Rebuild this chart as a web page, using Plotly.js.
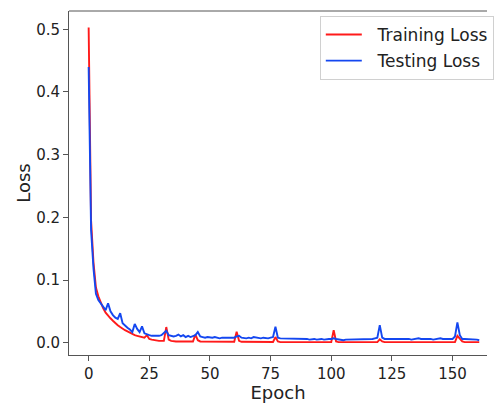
<!DOCTYPE html>
<html>
<head>
<meta charset="utf-8">
<script src="https://cdn.plot.ly/plotly-3.0.1.min.js"></script>
<style>
  html, body { margin: 0; padding: 0; background: #fff; overflow: hidden; }
  #chart { width: 494px; height: 403px; }
</style>
</head>
<body>
<div id="chart"></div>
<script>
// Per-epoch loss history (epochs 0..161)
const trainingLoss = [
  0.503, 0.195, 0.128, 0.088, 0.074, 0.063, 0.055, 0.048, 0.043, 0.039,
  0.035, 0.031, 0.028, 0.025, 0.022, 0.020, 0.018, 0.016, 0.013, 0.012,
  0.011, 0.010, 0.009, 0.008, 0.012, 0.006, 0.005, 0.004, 0.004, 0.003,
  0.003, 0.003, 0.025, 0.005, 0.003, 0.002, 0.002, 0.002, 0.002, 0.002,
  0.002, 0.002, 0.002, 0.002, 0.013, 0.004, 0.002, 0.002, 0.002, 0.002,
  0.002, 0.002, 0.0015, 0.0015, 0.0015, 0.0015, 0.0015, 0.0015, 0.0015, 0.0015,
  0.0015, 0.0175, 0.003, 0.0015, 0.0015, 0.0012, 0.0012, 0.0012, 0.0012, 0.0012,
  0.0012, 0.0012, 0.0012, 0.0012, 0.0012, 0.0012, 0.0012, 0.009, 0.002, 0.001,
  0.001, 0.001, 0.001, 0.001, 0.001, 0.001, 0.001, 0.001, 0.001, 0.001,
  0.001, 0.001, 0.001, 0.001, 0.001, 0.001, 0.001, 0.001, 0.001, 0.001,
  0.001, 0.020, 0.002, 0.001, 0.001, 0.001, 0.001, 0.001, 0.001, 0.001,
  0.001, 0.001, 0.001, 0.001, 0.001, 0.001, 0.001, 0.001, 0.001, 0.001,
  0.0055, 0.002, 0.001, 0.001, 0.001, 0.001, 0.001, 0.001, 0.001, 0.001,
  0.001, 0.001, 0.001, 0.001, 0.001, 0.001, 0.001, 0.001, 0.001, 0.001,
  0.001, 0.001, 0.001, 0.001, 0.001, 0.001, 0.001, 0.001, 0.001, 0.001,
  0.001, 0.001, 0.011, 0.006, 0.002, 0.001, 0.001, 0.001, 0.001, 0.001,
  0.001, 0.001
];

const testingLoss = [
  0.440, 0.180, 0.118, 0.078, 0.068, 0.062, 0.057, 0.052, 0.063, 0.050,
  0.044, 0.040, 0.038, 0.047, 0.031, 0.027, 0.024, 0.021, 0.017, 0.030,
  0.022, 0.017, 0.026, 0.015, 0.013, 0.012, 0.011, 0.011, 0.010, 0.011,
  0.012, 0.016, 0.019, 0.012, 0.011, 0.010, 0.011, 0.013, 0.010, 0.012,
  0.009, 0.011, 0.009, 0.010, 0.012, 0.017, 0.010, 0.009, 0.008, 0.009,
  0.008, 0.008, 0.009, 0.008, 0.007, 0.008, 0.008, 0.009, 0.008, 0.008,
  0.008, 0.010, 0.011, 0.008, 0.007, 0.007, 0.008, 0.007, 0.009, 0.008,
  0.007, 0.007, 0.008, 0.007, 0.007, 0.008, 0.009, 0.0255, 0.008, 0.007,
  0.007, 0.006, 0.007, 0.006, 0.006, 0.007, 0.006, 0.006, 0.007, 0.006,
  0.006, 0.005, 0.006, 0.006, 0.005, 0.006, 0.006, 0.005, 0.006, 0.006,
  0.006, 0.007, 0.006, 0.005, 0.005, 0.004, 0.005, 0.005, 0.006, 0.005,
  0.005, 0.006, 0.005, 0.005, 0.006, 0.005, 0.006, 0.006, 0.007, 0.008,
  0.028, 0.008, 0.006, 0.006, 0.007, 0.006, 0.006, 0.007, 0.006, 0.006,
  0.007, 0.006, 0.006, 0.005, 0.006, 0.006, 0.007, 0.006, 0.006, 0.007,
  0.006, 0.006, 0.005, 0.006, 0.006, 0.007, 0.006, 0.006, 0.005, 0.006,
  0.006, 0.010, 0.0325, 0.012, 0.006, 0.006, 0.006, 0.005, 0.006, 0.005,
  0.005, 0.004
];

const epochs = trainingLoss.map((_, i) => i);
const yTicks = [0.0, 0.1, 0.2, 0.3, 0.4, 0.5];
const xTicks = [0, 25, 50, 75, 100, 125, 150];
const seriesNames = ['Training Loss', 'Testing Loss'];

const font = 'DejaVu Sans, sans-serif';
// small gap between the legend swatch and its label
const labelPad = '\u00a0\u00a0';

const traces = [
  {
    x: epochs, y: trainingLoss, name: labelPad + seriesNames[0], type: 'scatter', mode: 'lines',
    line: { color: '#ff1a1a', width: 1.9 }, legendgroup: 'a'
  },
  {
    x: epochs, y: testingLoss, name: labelPad + seriesNames[1], type: 'scatter', mode: 'lines',
    line: { color: '#1447f0', width: 1.9 }, legendgroup: 'b'
  }
];

const layout = {
  width: 494, height: 403,
  margin: { l: 69, r: 0, t: 11, b: 48, pad: 0 },
  paper_bgcolor: '#fff', plot_bgcolor: '#fff',
  font: { family: font, color: '#222', size: 15 },
  showlegend: true,
  legend: {
    x: 0.6, y: 0.9855, xanchor: 'left', yanchor: 'top',
    bgcolor: '#fff', bordercolor: '#d0d0d0', borderwidth: 1,
    font: { family: font, size: 17, color: '#222' },
    traceorder: 'grouped', tracegroupgap: 1, itemwidth: 36
  },
  xaxis: {
    range: [-8.1, 164.2], tickvals: xTicks, ticktext: xTicks.map(String),
    showgrid: false, zeroline: false, showline: true, linecolor: '#555', linewidth: 1,
    ticks: 'outside', ticklen: 5, tickcolor: '#555', tickwidth: 1,
    tickfont: { family: font, size: 15, color: '#222' },
    title: { text: 'Epoch', font: { family: font, size: 18, color: '#222' }, standoff: 4 },
    automargin: false
  },
  yaxis: {
    range: [-0.0196, 0.5292], tickvals: yTicks, ticktext: yTicks.map(v => v.toFixed(1)),
    showgrid: false, zeroline: false, showline: true, linecolor: '#555', linewidth: 1,
    ticks: 'outside', ticklen: 5, tickcolor: '#555', tickwidth: 1,
    tickfont: { family: font, size: 15, color: '#222' },
    title: { text: 'Loss', font: { family: font, size: 18, color: '#222' }, standoff: 0 },
    automargin: false
  },
  shapes: [
    // top frame edge
    { type: 'line', xref: 'paper', yref: 'paper', x0: 0, x1: 1, y0: 1, y1: 1,
      line: { color: '#555', width: 1 } }
  ]
};

Plotly.newPlot('chart', traces, layout, { staticPlot: true, displayModeBar: false });
</script>
</body>
</html>
